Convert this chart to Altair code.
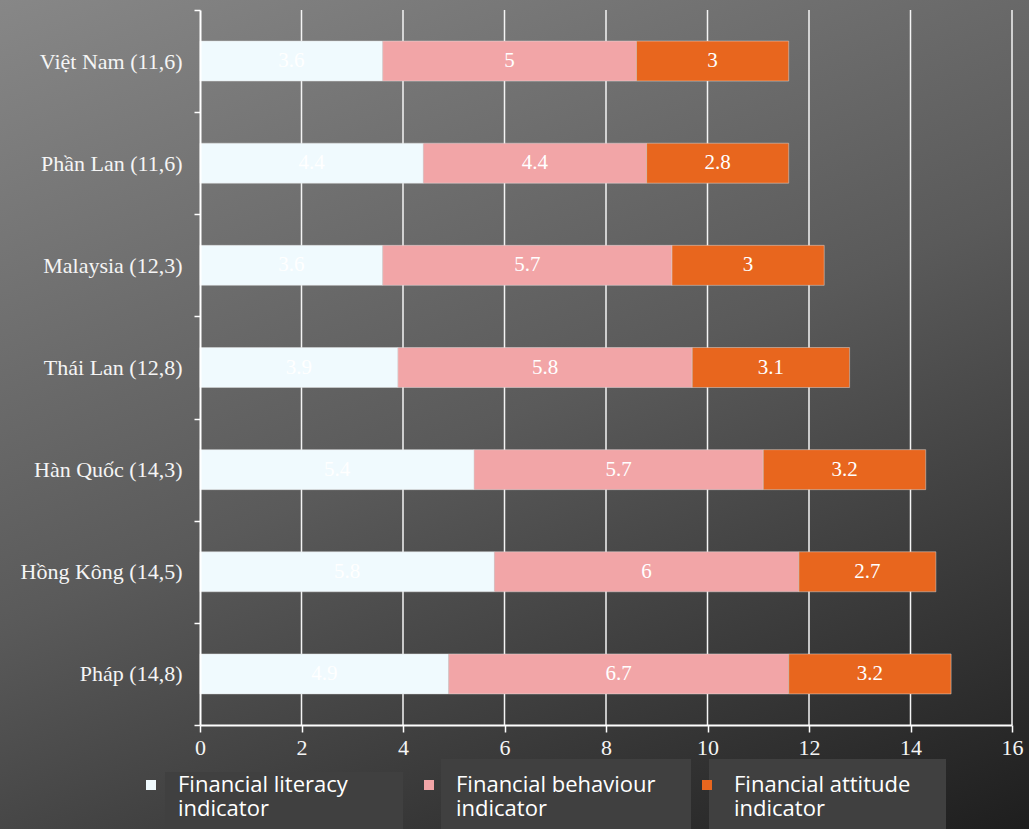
import altair as alt
import pandas as pd

countries = ["Việt Nam (11,6)", "Phần Lan (11,6)", "Malaysia (12,3)", "Thái Lan (12,8)",
             "Hàn Quốc (14,3)", "Hồng Kông (14,5)", "Pháp (14,8)"]
series = ["Financial literacy indicator", "Financial behaviour indicator", "Financial attitude indicator"]
literacy = [3.6, 4.4, 3.6, 3.9, 5.4, 5.8, 4.9]
behaviour = [5, 4.4, 5.7, 5.8, 5.7, 6, 6.7]
attitude = [3, 2.8, 3, 3.1, 3.2, 2.7, 3.2]
colors = ["#f0fafe", "#f2a5a7", "#e8661e"]
x_ticks = [0, 2, 4, 6, 8, 10, 12, 14, 16]

rows = []
for i, c in enumerate(countries):
    for j, vals in enumerate([literacy, behaviour, attitude]):
        rows.append({"country": c, "series": series[j], "value": vals[i], "k": j})
df = pd.DataFrame(rows)
grid_df = pd.DataFrame({"v": x_ticks[1:]})
one = pd.DataFrame({"a": [0]})

W, H = 812, 715
SERIF = "Liberation Serif"
SANS = "Open Sans"

x_axis = alt.Axis(values=x_ticks, title=None, grid=False, domainColor="white",
                  domainWidth=2, tickColor="white", tickSize=7, tickWidth=1.5,
                  labelFont=SERIF, labelFontSize=22, labelColor="#f5f5f5",
                  labelPadding=5, labelFlush=False, zindex=1)
x_scale = alt.Scale(domain=[0, 16])

bg = alt.Chart(one).mark_rect(
    color=alt.Gradient(
        gradient="linear", x1=0, y1=0, x2=0.61, y2=1.2,
        stops=[alt.GradientStop(color="#878787", offset=0),
               alt.GradientStop(color="#5a5a5a", offset=0.5),
               alt.GradientStop(color="#1e1e1e", offset=1)]
    )
).encode(x=alt.value(-200), x2=alt.value(829), y=alt.value(-10), y2=alt.value(819))

def box(x, x2, y, y2):
    return alt.Chart(one).mark_rect(color="#404040").encode(
        x=alt.value(x), x2=alt.value(x2), y=alt.value(y), y2=alt.value(y2))

boxes = [box(-35, 203, 762, 819), box(241, 491, 749, 819), box(509, 746, 749, 819)]

grid = alt.Chart(grid_df).mark_rule(color="#f4f4f4", strokeWidth=1.5).encode(
    x=alt.X("v:Q", scale=x_scale, axis=x_axis),
    y=alt.value(0), y2=alt.value(H)
)

base = alt.Chart(df).transform_stack(
    stack="value", groupby=["country"], as_=["x0", "x1"], sort=[alt.SortField("k")]
).transform_calculate(mid="(datum.x0 + datum.x1) / 2")

yenc = alt.Y("country:N", sort=countries,
             scale=alt.Scale(paddingInner=0, paddingOuter=0),
             axis=alt.Axis(title=None, grid=False, domainColor="white", domainWidth=2,
                           tickBand="extent", tickSize=6, tickColor="white", tickWidth=1.5,
                           labelFont=SERIF, labelFontSize=22, labelColor="#f5f5f5",
                           labelPadding=12, zindex=1))

bars = base.mark_bar(height=40, stroke="#dddddd", strokeWidth=0.8, strokeOpacity=0.6).encode(
    x=alt.X("x0:Q", scale=x_scale, axis=x_axis),
    x2="x1:Q",
    y=yenc,
    color=alt.Color("series:N", scale=alt.Scale(domain=series, range=colors),
                    legend=alt.Legend(
                        title=None, orient="none", legendX=-60, legendY=764,
                        direction="horizontal", columns=3, symbolType="square",
                        symbolSize=100, symbolStrokeWidth=0, labelFont=SANS,
                        labelFontSize=22, labelColor="white", labelLimit=0,
                        labelOffset=16, columnPadding=40, gridAlign="all",
                        labelExpr="[slice(datum.label, 0, lastindexof(datum.label, ' ')), slice(datum.label, lastindexof(datum.label, ' ') + 1)]"
                    ))
)

labels = base.mark_text(color="white", font=SERIF, fontSize=21, baseline="middle").encode(
    x="mid:Q", y=alt.Y("country:N", sort=countries), text=alt.Text("value:Q", format="~g")
)

chart = alt.layer(bg, *boxes, grid, bars, labels).properties(
    width=W, height=H,
    autosize=alt.AutoSizeParams(type="none"),
    padding={"left": 200, "top": 10, "right": 17, "bottom": 104},
    background="#5c5c5c"
).configure_view(stroke=None)

chart.save("out.html", embed_options={"renderer": "svg", "actions": False})
